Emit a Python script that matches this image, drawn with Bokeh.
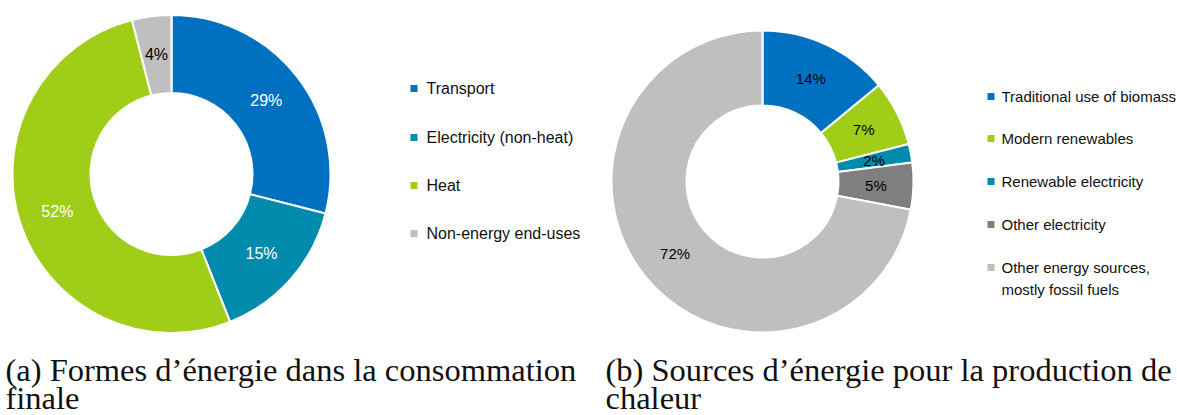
import numpy as np
from bokeh.plotting import figure
from bokeh.models import Range1d, ColumnDataSource
from bokeh.core.properties import value
from bokeh.embed import file_html
from bokeh.resources import INLINE

# ---------------- data ----------------
cats_a = ["Transport", "Electricity (non-heat)", "Heat", "Non-energy end-uses"]
vals_a = [29, 15, 52, 4]
cols_a = ["#0070C0", "#008BAD", "#9FCD18", "#BFBFBF"]
lblcol_a = ["white", "white", "white", "black"]

cats_b = ["Traditional use of biomass", "Modern renewables", "Renewable electricity",
          "Other electricity", "Other energy sources,\nmostly fossil fuels"]
vals_b = [14, 7, 2, 5, 72]
cols_b = ["#0070C0", "#9FCD18", "#008BAD", "#7F7F7F", "#BFBFBF"]
lblcol_b = ["black", "black", "black", "black", "black"]

caption_a = ["(a) Formes d\u2019\u00e9nergie dans la consommation", "finale"]
caption_b = ["(b) Sources d\u2019\u00e9nergie pour la production de", "chaleur"]

# ---------------- layout (screen pixel coords) ----------------
W, H = 1177, 415


def Y(sy):
    return H - sy


p = figure(width=W, height=H, output_backend="svg", toolbar_location=None,
           x_range=Range1d(0, W), y_range=Range1d(0, H), min_border=0)
p.axis.visible = False
p.grid.visible = False
p.outline_line_color = None
p.background_fill_color = "white"
p.border_fill_color = "white"

FONT = value("Liberation Sans")


def donut(vals, cols, lblcols, cx, cy, R, r, fs):
    v = np.array(vals, dtype=float)
    frac = v / v.sum()
    cum = np.concatenate([[0], np.cumsum(frac)])
    start = np.pi / 2 - 2 * np.pi * cum[:-1]
    end = np.pi / 2 - 2 * np.pi * cum[1:]
    src = ColumnDataSource(dict(x=[cx] * len(v), y=[Y(cy)] * len(v),
                                start=start, end=end, color=cols))
    p.annular_wedge(x="x", y="y", inner_radius=r, outer_radius=R,
                    start_angle="start", end_angle="end", direction="clock",
                    fill_color="color", line_color="white", line_width=2, source=src)
    mid = np.pi / 2 - 2 * np.pi * (cum[:-1] + frac / 2)
    rm = (R + r) / 2
    lx = cx + rm * np.cos(mid)
    ly = Y(cy) + rm * np.sin(mid)
    labels = ["%d%%" % round(x) for x in v]
    lsrc = ColumnDataSource(dict(x=lx, y=ly, t=labels, c=lblcols))
    p.text(x="x", y="y", text="t", text_color="c", text_align="center",
           text_baseline="middle", text_font=FONT, text_font_size=fs, source=lsrc)


def legend(cats, cols, sx, tx, ys, fs, line_h):
    for cat, col, yy in zip(cats, cols, ys):
        p.rect(x=[sx], y=[Y(yy)], width=7, height=7, fill_color=col, line_color=None)
        for k, line in enumerate(cat.split("\n")):
            p.text(x=[tx], y=[Y(yy + k * line_h)], text=[line], text_color="#111111",
                   text_align="left", text_baseline="middle", text_font=FONT,
                   text_font_size=fs)


donut(vals_a, cols_a, lblcol_a, 171, 173.5, 159, 81, "16px")
donut(vals_b, cols_b, lblcol_b, 762, 181, 151, 76, "15px")

legend(cats_a, cols_a, 413.5, 426, [88, 137, 185, 233], "16px", 21)
legend(cats_b, cols_b, 990.5, 1001, [96, 138, 181, 224, 267], "15px", 22)

SERIF = value("Liberation Serif")
for caps, x0 in ((caption_a, 5), (caption_b, 605)):
    for k, line in enumerate(caps):
        p.text(x=[x0], y=[Y(369 + k * 28)], text=[line], text_color="#111111",
               text_align="left", text_baseline="alphabetic", text_font=SERIF,
               text_font_size="32.5px")

open("out.html", "w").write(file_html(p, INLINE))
